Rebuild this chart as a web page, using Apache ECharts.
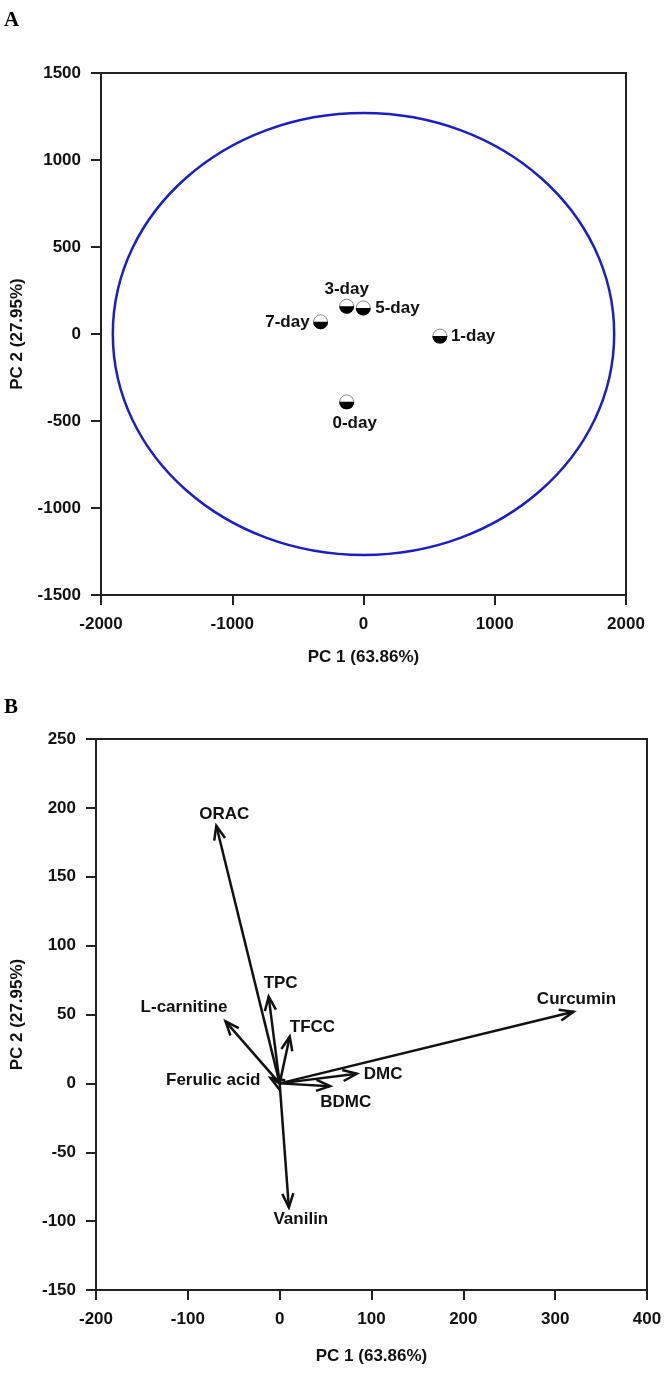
<!DOCTYPE html>
<html>
<head>
<meta charset="utf-8">
<title>PCA scores and loadings</title>
<script src="https://cdn.jsdelivr.net/npm/echarts@6/dist/echarts.min.js"></script>
<style>
  html, body { margin: 0; padding: 0; background: #fff; }
  #chart { width: 669px; height: 1379px; }
</style>
</head>
<body>
<div id="chart"></div>
<script>
// panel A: sample scores
const sampleNames = ['0-day', '1-day', '3-day', '5-day', '7-day'];
const samplePC1 = [-128, 582, -128, -2, -327];
const samplePC2 = [-390, -12, 160, 150, 70];
// confidence ellipse, centre and semi-axes in data units
const ellipseCenter = [0, 0];
const ellipseRadii = [1910, 1270];

// panel B: variable loadings
const varNames = ['ORAC', 'TPC', 'L-carnitine', 'TFCC', 'Ferulic acid', 'DMC', 'BDMC', 'Curcumin', 'Vanilin'];
const varPC1 = [-69, -12, -59, 11, -10, 84, 55, 320, 10];
const varPC2 = [187, 63, 45, 34, 4, 7, -2, 52, -90];

const xTitle = 'PC 1 (63.86%)';
const yTitle = 'PC 2 (27.95%)';

// label placement (pixels from the mark)
const scoreLabelPlace = {
  '0-day': { align: 'center', vAlign: 'top', dx: 8, dy: 13 },
  '1-day': { align: 'left', vAlign: 'middle', dx: 11, dy: 0 },
  '3-day': { align: 'center', vAlign: 'bottom', dx: 0, dy: -8 },
  '5-day': { align: 'left', vAlign: 'middle', dx: 12, dy: 0 },
  '7-day': { align: 'right', vAlign: 'middle', dx: -11, dy: 0 }
};
const loadingLabelPlace = {
  'ORAC': { align: 'center', vAlign: 'bottom', dx: 8, dy: -3 },
  'TPC': { align: 'center', vAlign: 'bottom', dx: 12, dy: -5 },
  'L-carnitine': { align: 'right', vAlign: 'bottom', dx: 2, dy: -6 },
  'TFCC': { align: 'left', vAlign: 'middle', dx: 0, dy: -9 },
  'Ferulic acid': { align: 'right', vAlign: 'middle', dx: -10, dy: 2 },
  'DMC': { align: 'left', vAlign: 'middle', dx: 7, dy: 1 },
  'BDMC': { align: 'left', vAlign: 'top', dx: -10, dy: 8 },
  'Curcumin': { align: 'center', vAlign: 'bottom', dx: 3, dy: -4 },
  'Vanilin': { align: 'center', vAlign: 'top', dx: 12, dy: 3 }
};

const INK = '#111';
const FONT = 'Liberation Sans, Arial, sans-serif';
const labelFont = { fontFamily: FONT, fontWeight: 'bold', fontSize: 17, fill: INK };

function textEl(x, y, text, place) {
  return {
    type: 'text',
    x: x + place.dx,
    y: y + place.dy,
    style: Object.assign({ text: text, textAlign: place.align, textVerticalAlign: place.vAlign }, labelFont)
  };
}

function renderEllipse(params, api) {
  const c = api.coord([api.value(0), api.value(1)]);
  const e = api.coord([api.value(0) + api.value(2), api.value(1) + api.value(3)]);
  return {
    type: 'ellipse',
    shape: { cx: c[0], cy: c[1], rx: Math.abs(e[0] - c[0]), ry: Math.abs(e[1] - c[1]) },
    style: { stroke: '#1d1dc2', lineWidth: 2.5, fill: null }
  };
}

function renderScore(params, api) {
  const p = api.coord([api.value(0), api.value(1)]);
  const name = sampleNames[params.dataIndex];
  return {
    type: 'group',
    children: [
      { type: 'circle', shape: { cx: p[0], cy: p[1], r: 7 }, style: { fill: '#fff', stroke: '#888', lineWidth: 1 } },
      { type: 'sector', shape: { cx: p[0], cy: p[1], r0: 0, r: 7.5, startAngle: 0, endAngle: Math.PI, clockwise: true }, style: { fill: '#000' } },
      textEl(p[0], p[1], name, scoreLabelPlace[name])
    ]
  };
}

function renderArrow(params, api) {
  const o = api.coord([0, 0]);
  const t = api.coord([api.value(0), api.value(1)]);
  const ang = Math.atan2(t[1] - o[1], t[0] - o[0]);
  const len = 15, spread = 0.38;
  const h1 = [t[0] - len * Math.cos(ang - spread), t[1] - len * Math.sin(ang - spread)];
  const h2 = [t[0] - len * Math.cos(ang + spread), t[1] - len * Math.sin(ang + spread)];
  const name = varNames[params.dataIndex];
  return {
    type: 'group',
    children: [
      { type: 'line', shape: { x1: o[0], y1: o[1], x2: t[0], y2: t[1] }, style: { stroke: INK, lineWidth: 2.5 } },
      { type: 'polyline', shape: { points: [h1, t, h2] }, style: { stroke: INK, lineWidth: 2.5, fill: null, lineJoin: 'miter' } },
      textEl(t[0], t[1], name, loadingLabelPlace[name])
    ]
  };
}

function valueAxis(gridIndex, min, max, interval, name, nameGap, isY) {
  return {
    type: 'value',
    gridIndex: gridIndex,
    min: min,
    max: max,
    interval: interval,
    name: name,
    nameLocation: 'middle',
    nameGap: nameGap,
    nameRotate: isY ? 90 : 0,
    nameTextStyle: { fontFamily: FONT, fontWeight: 'bold', fontSize: 17, color: INK },
    axisLine: { show: true, onZero: false, lineStyle: { color: '#222', width: 2 } },
    axisTick: { show: true, length: 10, lineStyle: { color: '#222', width: 2 } },
    axisLabel: {
      margin: isY ? 20 : 21,
      formatter: v => String(v),
      fontFamily: FONT, fontWeight: 'bold', fontSize: 17, color: INK
    },
    splitLine: { show: false }
  };
}

const chart = echarts.init(document.getElementById('chart'));
chart.setOption({
  animation: false,
  backgroundColor: '#fff',
  graphic: [
    { type: 'text', left: 4, top: 10, style: { text: 'A', fontFamily: 'Liberation Serif, Times New Roman, serif', fontWeight: 'bold', fontSize: 21, fill: '#000' } },
    { type: 'text', left: 4, top: 697, style: { text: 'B', fontFamily: 'Liberation Serif, Times New Roman, serif', fontWeight: 'bold', fontSize: 21, fill: '#000' } }
  ],
  grid: [
    { left: 101, top: 73, width: 525, height: 522, show: true, borderColor: '#222', borderWidth: 2, backgroundColor: 'transparent' },
    { left: 96, top: 739, width: 551, height: 551, show: true, borderColor: '#222', borderWidth: 2, backgroundColor: 'transparent' }
  ],
  xAxis: [
    valueAxis(0, -2000, 2000, 1000, xTitle, 54, false),
    valueAxis(1, -200, 400, 100, xTitle, 58, false)
  ],
  yAxis: [
    valueAxis(0, -1500, 1500, 500, yTitle, 75, true),
    valueAxis(1, -150, 250, 50, yTitle, 70, true)
  ],
  series: [
    {
      type: 'custom',
      xAxisIndex: 0,
      yAxisIndex: 0,
      renderItem: renderEllipse,
      data: [[ellipseCenter[0], ellipseCenter[1], ellipseRadii[0], ellipseRadii[1]]],
      silent: true
    },
    {
      type: 'custom',
      xAxisIndex: 0,
      yAxisIndex: 0,
      renderItem: renderScore,
      encode: { x: 0, y: 1 },
      data: samplePC1.map((v, i) => [v, samplePC2[i]])
    },
    {
      type: 'custom',
      xAxisIndex: 1,
      yAxisIndex: 1,
      renderItem: renderArrow,
      encode: { x: 0, y: 1 },
      data: varPC1.map((v, i) => [v, varPC2[i]])
    }
  ]
});
</script>
</body>
</html>
